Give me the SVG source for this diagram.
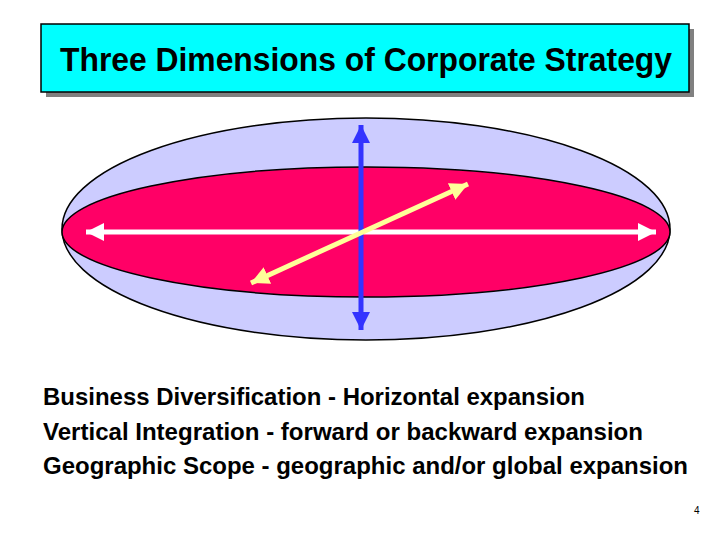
<svg xmlns="http://www.w3.org/2000/svg" width="720" height="540" viewBox="0 0 720 540">
<defs>
<style>
.t{font-family:"Liberation Sans",Arial,sans-serif;font-weight:bold;fill:#000}
.body{font-size:24px}
</style>
<marker id="ab" viewBox="0 0 10 10" refX="10" refY="5" markerWidth="18" markerHeight="18" markerUnits="userSpaceOnUse" orient="auto-start-reverse"><path d="M0,0 L10,5 L0,10 Z" fill="#3333FF"/></marker>
<marker id="aw" viewBox="0 0 10 10" refX="10" refY="5" markerWidth="18" markerHeight="18" markerUnits="userSpaceOnUse" orient="auto-start-reverse"><path d="M0,0 L10,5 L0,10 Z" fill="#FFFFFF"/></marker>
<marker id="ay" viewBox="0 0 10 10" refX="10" refY="5" markerWidth="18" markerHeight="18" markerUnits="userSpaceOnUse" orient="auto-start-reverse"><path d="M0,0 L10,5 L0,10 Z" fill="#FFFF99"/></marker>
</defs>
<rect width="720" height="540" fill="#FFFFFF"/>
<g id="title">
<rect x="46" y="29" width="648" height="68" fill="#808080"/>
<rect x="41" y="24" width="648" height="68" fill="#00FFFF" stroke="#000" stroke-width="1.5"/>
<text class="t" x="60" y="71" font-size="33" textLength="612" lengthAdjust="spacingAndGlyphs">Three Dimensions of Corporate Strategy</text>
</g>
<g id="outer-ellipse"><ellipse cx="366" cy="229" rx="304" ry="111" fill="#CCCCFF" stroke="#000" stroke-width="1.5"/></g>
<g id="inner-ellipse"><ellipse cx="366" cy="232" rx="304" ry="65" fill="#FF0066" stroke="#000" stroke-width="1.5"/></g>
<g id="connectors">
<line x1="86" y1="232" x2="656" y2="232" stroke="#FFFFFF" stroke-width="5" marker-start="url(#aw)" marker-end="url(#aw)"/>
<line x1="361" y1="125" x2="361" y2="330" stroke="#3333FF" stroke-width="5" marker-start="url(#ab)" marker-end="url(#ab)"/>
<line x1="251" y1="283" x2="468" y2="184" stroke="#FFFF99" stroke-width="5" marker-start="url(#ay)" marker-end="url(#ay)"/>
</g>
<g id="text">
<text class="t body" x="43" y="405" textLength="542" lengthAdjust="spacingAndGlyphs">Business Diversification - Horizontal expansion</text>
<text class="t body" x="43" y="440" textLength="600" lengthAdjust="spacingAndGlyphs">Vertical Integration - forward or backward expansion</text>
<text class="t body" x="43" y="474" textLength="645" lengthAdjust="spacingAndGlyphs">Geographic Scope - geographic and/or global expansion</text>
<text x="694" y="514" font-family="Liberation Sans,Arial,sans-serif" font-size="10" fill="#000">4</text>
</g>
</svg>
